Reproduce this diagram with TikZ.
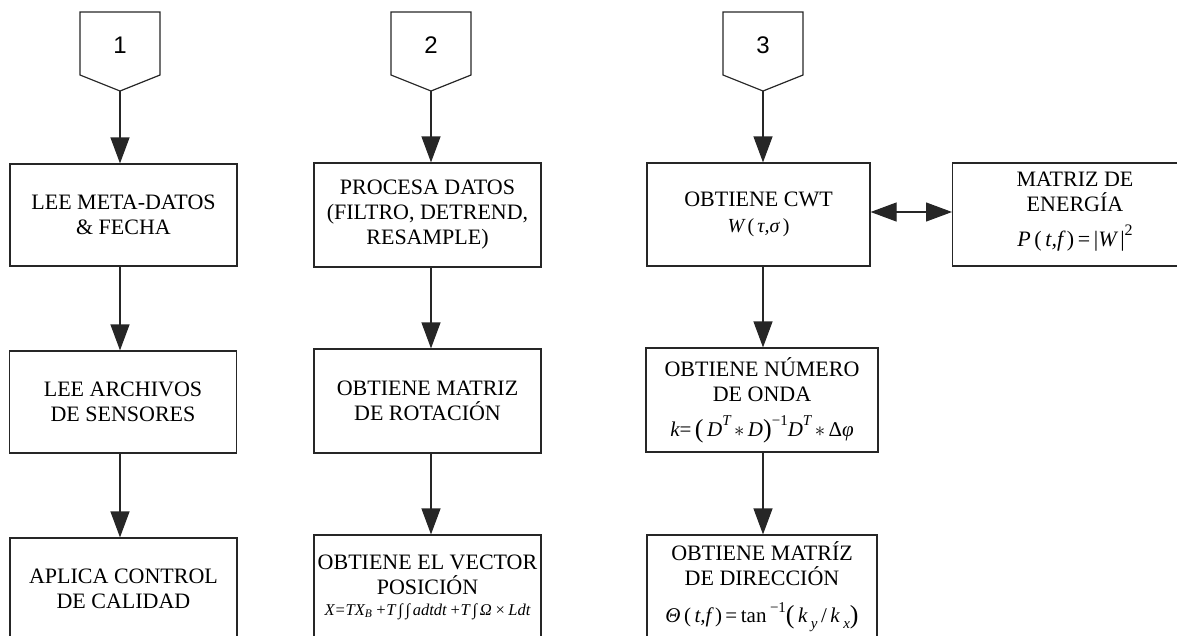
\documentclass[tikz,border=0pt]{standalone}
\usepackage{fontspec}
\setmainfont{Liberation Serif}
\newfontfamily\numfont{Liberation Sans}
\usetikzlibrary{arrows.meta}

% small raised / lowered pieces inside the formulas
\newcommand{\upx}[1]{\raisebox{0.5em}{\fontsize{15}{15}\selectfont #1}}
\newcommand{\dnx}[1]{\raisebox{-0.3em}{\fontsize{15}{15}\selectfont #1}}
\newcommand{\bigpar}[1]{\raisebox{-1pt}{\fontsize{26}{26}\selectfont #1}}

\begin{document}
\begin{tikzpicture}[x=1pt,y=-1pt,
  line width=1.2pt,
  box/.style={draw=black!85, rectangle, align=center, inner sep=2pt,
    font=\fontsize{22}{25}\selectfont},
  colA/.style={box, minimum width=227pt, minimum height=102pt},
  colB/.style={box, minimum width=227pt, minimum height=104pt},
  arr/.style={draw=black!85, -{Triangle[length=26pt,width=19pt]}},
  darr/.style={draw=black!85, {Triangle[length=26pt,width=19pt]}-{Triangle[length=26pt,width=19pt]}},
  num/.style={font=\numfont\fontsize{24}{26}\selectfont, inner sep=0pt},
  pent/.style={draw=black!85, line join=miter}
]
\useasboundingbox (0,0) rectangle (1177,635);
\clip (0,0) rectangle (1177,635);

% off-page connectors
\foreach \cx/\n in {120/1, 431/2, 763/3}{
  \draw[pent] (\cx-40,12) -- (\cx+40,12) -- (\cx+40,75) -- (\cx,91) -- (\cx-40,75) -- cycle;
  \node[num] (c\n) at (\cx,45) {\n};
  \coordinate (t\n) at (\cx,91);
}

% column 1
\node[colA] (a1) at (123.5,215) {LEE META-DATOS\\\& FECHA};
\node[colA] (a2) at (123,402) {LEE ARCHIVOS\\DE SENSORES};
\node[colA] (a3) at (123.5,589) {APLICA CONTROL\\DE CALIDAD};

% column 2
\node[colB] (b1) at (427.5,215) {PROCESA DATOS\\(FILTRO, DETREND,\\RESAMPLE)};
\node[colB] (b2) at (427.5,401) {OBTIENE MATRIZ\\DE ROTACIÓN};
\node[colB] (b3) at (427.5,587) {OBTIENE EL VECTOR\\POSICIÓN\\[-4pt]
  {\fontsize{16.5}{18}\selectfont\itshape X=TX\textsubscript{B}\,+T\,∫\,∫\,adtdt\,+T\,∫\,Ω\,×\,Ldt}};

% column 3
\node[box, minimum width=223pt, minimum height=103pt] (d1) at (758.5,214.5)
  {OBTIENE CWT\\[1pt]{\fontsize{20}{22}\selectfont{\itshape W}\,(\,{\itshape τ,σ}\,)}};
\node[box, minimum width=232pt, minimum height=104pt] (d2) at (762,400)
  {OBTIENE NÚMERO\\DE ONDA\\[10pt]{\fontsize{21}{23}\selectfont{\itshape k}=\,\bigpar{(}\,{\itshape D}\upx{\itshape T}\,$\ast$\,{\itshape D}\bigpar{)}\upx{−1}{\itshape D}\upx{\itshape T}\,$\ast$\,Δ{\itshape φ}}};
\node[box, minimum width=230pt, minimum height=104pt] (d3) at (762,587)
  {OBTIENE MATRÍZ\\DE DIRECCIÓN\\[12pt]{\fontsize{21}{23}\selectfont{\itshape Θ}\,(\,{\itshape t,f}\,)\,=\,tan\,\upx{−1}\bigpar{(}\,{\itshape k}\,\dnx{\itshape y}\,/\,{\itshape k}\,\dnx{\itshape x}\bigpar{)}}};

% energy matrix: its box runs past the right edge
\node[draw=black!85, rectangle, minimum width=300pt, minimum height=103pt, anchor=west] (e1) at (952,214.5) {};
\node[font=\fontsize{22}{25}\selectfont, align=center] (e1t) at (1075,212)
  {MATRIZ DE\\ENERGÍA\\[10pt]{\fontsize{22}{24}\selectfont{\itshape P}\,(\,{\itshape t,f}\,)\,=\,|{\itshape W}\,|\raisebox{0.5em}{\fontsize{16}{16}\selectfont 2}}};

% connectors
\draw[arr] (t1) -- (t1 |- a1.north);
\draw[arr] (a1.south -| t1) -- (a2.north -| t1);
\draw[arr] (a2.south -| t1) -- (a3.north -| t1);

\draw[arr] (t2) -- (t2 |- b1.north);
\draw[arr] (b1.south -| t2) -- (b2.north -| t2);
\draw[arr] (b2.south -| t2) -- (b3.north -| t2);

\draw[arr] (t3) -- (t3 |- d1.north);
\draw[arr] (d1.south -| t3) -- (d2.north -| t3);
\draw[arr] (d2.south -| t3) -- (d3.north -| t3);

\draw[darr] (d1.east |- 0,212) -- (e1.west |- 0,212);
\end{tikzpicture}
\end{document}
